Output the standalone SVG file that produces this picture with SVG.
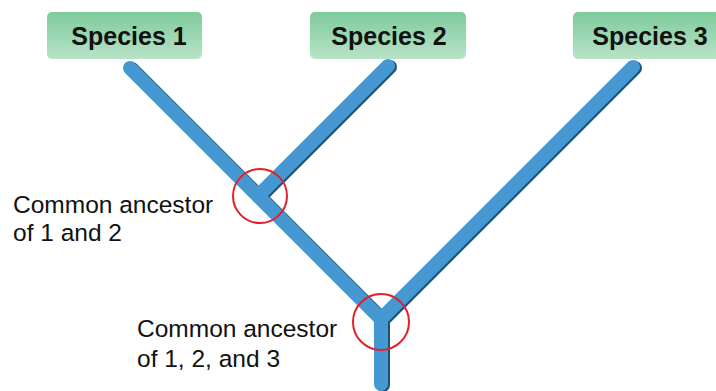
<svg xmlns="http://www.w3.org/2000/svg" width="716" height="391" viewBox="0 0 716 391">
<defs>
<linearGradient id="g" x1="0" y1="0" x2="0" y2="1">
<stop offset="0" stop-color="#7ecb9c"/>
<stop offset="1" stop-color="#b8e3c8"/>
</linearGradient>
<style>
.box{fill:url(#g)}
.sp{font-family:"Liberation Sans",Arial,sans-serif;font-weight:bold;font-size:25px;fill:#111;text-anchor:middle}
.lb{font-family:"Liberation Sans",Arial,sans-serif;font-size:24.5px;fill:#111}
.sh{fill:none;stroke:#1d5176;stroke-width:14;stroke-linecap:round;stroke-linejoin:miter}
.br{fill:none;stroke:#4698d3;stroke-width:14;stroke-linecap:round;stroke-linejoin:miter}
.ring{fill:none;stroke:#e0212b;stroke-width:2}
</style>
</defs>
<g id="connectors">
<g transform="translate(2,1)">
<polyline class="sh" points="130,68 381,319 381,384"/>
<line class="sh" x1="388" y1="66" x2="262" y2="192"/>
<line class="sh" x1="633" y1="67" x2="381" y2="319"/>
</g>
<polyline class="br" points="130,68 381,319 381,384"/>
<line class="br" x1="388" y1="66" x2="262" y2="192"/>
<line class="br" x1="633" y1="67" x2="381" y2="319"/>
</g>
<g id="species1">
<rect class="box" x="47" y="12" width="155" height="47" rx="5"/>
<text class="sp" x="129" y="45">Species 1</text>
</g>
<g id="species2">
<rect class="box" x="310" y="12" width="156" height="47" rx="5"/>
<text class="sp" x="389" y="45">Species 2</text>
</g>
<g id="species3">
<rect class="box" x="573" y="12" width="150" height="47" rx="5"/>
<text class="sp" x="650" y="45">Species 3</text>
</g>
<g id="ancestor12">
<circle class="ring" cx="260" cy="196" r="27"/>
<text class="lb" x="13" y="213">Common ancestor</text>
<text class="lb" x="13" y="241">of 1 and 2</text>
</g>
<g id="ancestor123">
<circle class="ring" cx="381" cy="322" r="28"/>
<text class="lb" x="137" y="337">Common ancestor</text>
<text class="lb" x="137" y="367">of 1, 2, and 3</text>
</g>
</svg>
